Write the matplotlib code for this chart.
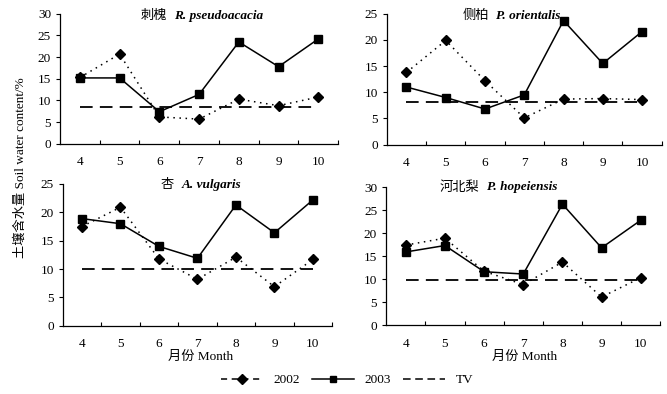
import matplotlib

matplotlib.use("Agg")
import matplotlib.pyplot as plt
from matplotlib.lines import Line2D

plt.rcParams["font.family"] = ["Liberation Serif", "Noto Sans CJK SC"]
plt.rcParams["font.size"] = 9

MONTHS = [4, 5, 6, 7, 8, 9, 10]

TITLES_CN = ["刺槐", "侧柏", "杏", "河北梨"]
TITLES_LATIN = ["R. pseudoacacia", "P. orientalis", "A. vulgaris", "P. hopeiensis"]

Y2002 = [
    [15.3, 20.7, 6.2, 5.7, 10.3, 8.8, 10.8],
    [13.8, 19.9, 12.2, 5.1, 8.7, 8.8, 8.6],
    [17.5, 20.9, 11.8, 8.2, 12.1, 6.9, 11.7],
    [17.4, 18.9, 11.7, 8.8, 13.7, 6.1, 10.3],
]
Y2003 = [
    [15.2, 15.2, 7.4, 11.4, 23.5, 17.8, 24.2],
    [11.0, 9.0, 6.8, 9.5, 23.7, 15.5, 21.6],
    [18.9, 18.0, 14.0, 11.9, 21.3, 16.4, 22.2],
    [15.9, 17.3, 11.6, 11.1, 26.3, 16.8, 22.8],
]
TV = [8.5, 8.1, 10.1, 9.8]
YMAX = [30, 25, 25, 30]

# axes rectangles in figure fractions (left, bottom, width, height)
RECTS = [
    (0.090, 0.635, 0.417, 0.330),
    (0.580, 0.633, 0.412, 0.332),
    (0.094, 0.173, 0.404, 0.360),
    (0.579, 0.175, 0.411, 0.350),
]
# where the centre of each panel title sits (axes fraction)
TITLE_X = [0.51, 0.455, 0.513, 0.41]
TITLE_Y = [0.985, 0.985, 0.995, 1.0]

fig = plt.figure(figsize=(6.67, 3.94), dpi=100)

titles = []
for i in range(4):
    ax = fig.add_axes(RECTS[i])
    x = list(range(len(MONTHS)))
    ax.plot(x, Y2002[i], color="black", linestyle=(0, (1, 3)), lw=1.1,
            marker="D", markersize=5.5, zorder=3)
    ax.plot(x, Y2003[i], color="black", linestyle="-", lw=1.1,
            marker="s", markersize=5.5, zorder=3)
    ax.plot([x[0], x[-1]], [TV[i], TV[i]], color="black",
            linestyle=(0, (7, 4)), lw=1.3, zorder=2)

    ax.set_xlim(-0.5, len(MONTHS) - 0.5)
    ax.set_ylim(0, YMAX[i])
    ax.set_yticks(range(0, YMAX[i] + 1, 5))
    ax.set_xticks(x)
    ax.set_xticklabels([str(m) for m in MONTHS])
    ax.set_xticks([k + 0.5 for k in x], minor=True)
    ax.tick_params(axis="x", which="major", length=0, pad=9, labelsize=9.5)
    ax.tick_params(axis="x", which="minor", direction="in", length=3, width=0.8)
    ax.tick_params(axis="y", direction="out", length=3, width=0.8, labelsize=9.5)
    ax.spines["top"].set_visible(False)
    ax.spines["right"].set_visible(False)
    for s in ("left", "bottom"):
        ax.spines[s].set_linewidth(0.9)

    t_cn = ax.text(0, TITLE_Y[i], TITLES_CN[i], transform=ax.transAxes,
                   ha="left", va="center", fontsize=9.5,
                   family=["Noto Sans CJK SC"])
    t_la = ax.text(0, TITLE_Y[i], TITLES_LATIN[i], transform=ax.transAxes,
                   ha="left", va="center", fontsize=9.5, style="italic",
                   fontweight="bold")
    titles.append((ax, t_cn, t_la, TITLE_X[i]))

# centre each two-font title as one unit
fig.canvas.draw()
renderer = fig.canvas.get_renderer()
gap = 7
for ax, t_cn, t_la, cx in titles:
    w_cn = t_cn.get_window_extent(renderer).width
    w_la = t_la.get_window_extent(renderer).width
    ax_w = ax.get_window_extent(renderer).width
    total = (w_cn + gap + w_la) / ax_w
    x0 = cx - total / 2
    t_cn.set_x(x0)
    t_la.set_x(x0 + (w_cn + gap) / ax_w)

fig.text(0.03, 0.575, "土壤含水量 Soil water content/%", rotation=90,
         ha="center", va="center", fontsize=9.5)
fig.text(0.300, 0.094, "月份 Month", ha="center", va="center", fontsize=9.5)
fig.text(0.787, 0.094, "月份 Month", ha="center", va="center", fontsize=9.5)

handles = [
    Line2D([], [], color="black", linestyle=(0, (4, 3)), lw=1.1,
           marker="D", markersize=5),
    Line2D([], [], color="black", linestyle="-", lw=1.1,
           marker="s", markersize=5),
    Line2D([], [], color="black", linestyle=(0, (5, 3)), lw=1.1),
]
fig.legend(handles, ["2002", "2003", "TV"], loc="center",
           bbox_to_anchor=(0.52, 0.035), ncol=3, frameon=False,
           fontsize=9.5, handlelength=3.2, columnspacing=0.9,
           handletextpad=0.8)

fig.savefig("out.png", dpi=100)
